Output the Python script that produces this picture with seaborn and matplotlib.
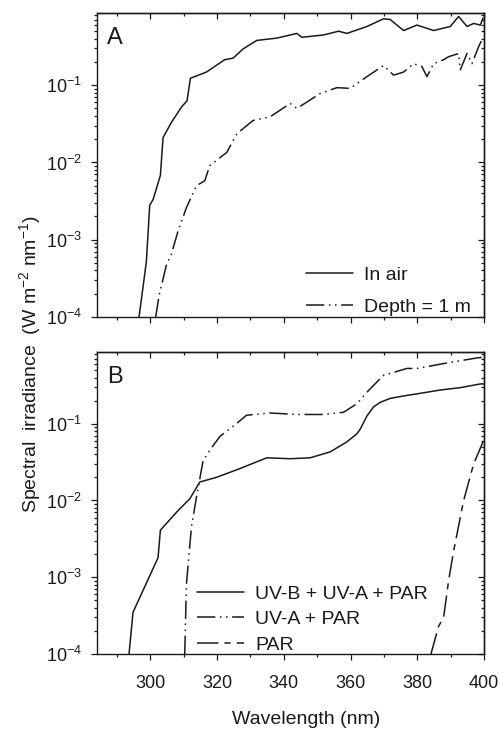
import numpy as np
import pandas as pd
import matplotlib
matplotlib.use("Agg")
import matplotlib.pyplot as plt
import seaborn as sns
from matplotlib.ticker import LogLocator, MultipleLocator, NullFormatter

# panel A: in air vs depth 1 m
air_wl = [296.6, 298.8, 299.8, 300.8, 303.0, 303.8, 306.3, 309.3, 311.0, 312.0,
          316.8, 322.3, 324.8, 327.8, 331.9, 337.9, 343.9, 345.4, 351.9, 356.4,
          358.9, 364.9, 369.9, 371.9, 375.9, 379.9, 384.9, 389.9, 392.4, 394.9,
          396.9, 398.9, 399.7]
air_irr = [1.0e-4, 5.2e-4, 2.8e-3, 3.3e-3, 6.8e-3, 2.1e-2, 3.3e-2, 5.2e-2, 6.3e-2, 0.123,
           0.148, 0.214, 0.224, 0.295, 0.38, 0.407, 0.468, 0.417, 0.447, 0.50,
           0.468, 0.575, 0.724, 0.708, 0.51, 0.60, 0.51, 0.575, 0.776, 0.575,
           0.63, 0.60, 0.74]

depth_wl = [301.6, 302.6, 304.8, 306.3, 308.3, 310.8, 313.8, 316.3, 317.8, 322.9,
            325.9, 330.8, 335.9, 341.9, 343.9, 350.9, 355.9, 359.9, 364.9, 369.9,
            372.9, 375.9, 378.9, 381.4, 382.9, 384.9, 387.9, 389.4, 392.4, 392.9,
            394.9, 396.4, 398.4, 399.4]
depth_irr = [1.0e-4, 1.9e-4, 4.7e-4, 6.5e-4, 1.3e-3, 2.6e-3, 5.0e-3, 5.8e-3, 9.1e-3, 1.35e-2,
             2.35e-2, 3.5e-2, 3.9e-2, 5.8e-2, 5.0e-2, 7.8e-2, 9.3e-2, 9.1e-2, 0.129, 0.18,
             0.135, 0.148, 0.19, 0.174, 0.129, 0.19, 0.214, 0.234, 0.257, 0.158,
             0.257, 0.19, 0.316, 0.39]

# panel B: modelled spectra
full_wl = [293.6, 294.8, 302.3, 303.0, 308.3, 311.8, 314.8, 319.8, 326.8, 334.9,
           341.9, 347.9, 353.9, 358.9, 361.9, 362.9, 364.9, 366.9, 368.9, 371.9,
           376.9, 379.9, 386.9, 392.9, 398.9, 400.0]
full_irr = [1.0e-4, 3.5e-4, 1.8e-3, 4.1e-3, 7.4e-3, 1.05e-2, 1.74e-2, 2.0e-2, 2.6e-2, 3.6e-2,
            3.5e-2, 3.6e-2, 4.3e-2, 5.8e-2, 7.4e-2, 8.5e-2, 0.126, 0.166, 0.19, 0.214,
            0.234, 0.245, 0.275, 0.295, 0.33, 0.33]

uva_wl = [310.3, 310.8, 312.3, 313.8, 315.8, 317.8, 320.8, 325.8, 328.8, 335.9,
          343.9, 351.9, 357.9, 361.9, 364.9, 366.9, 369.9, 376.9, 379.9, 389.9,
          396.9, 400.0]
uva_irr = [1.0e-4, 8.1e-4, 4.5e-3, 1.1e-2, 3.3e-2, 4.5e-2, 6.8e-2, 0.10, 0.129, 0.138,
           0.132, 0.132, 0.141, 0.182, 0.257, 0.316, 0.427, 0.525, 0.525, 0.63,
           0.708, 0.74]

par_wl = [384.1, 386.4, 387.9, 389.4, 390.9, 393.9, 396.9, 399.7, 400.0]
par_irr = [1.0e-4, 2.3e-4, 3.0e-4, 9.1e-4, 2.2e-3, 1.0e-2, 3.0e-2, 5.8e-2, 6.3e-2]

panel_a = pd.concat([
    pd.DataFrame({"wl": air_wl, "irr": air_irr, "series": "In air"}),
    pd.DataFrame({"wl": depth_wl, "irr": depth_irr, "series": "Depth = 1 m"}),
])
panel_b = pd.concat([
    pd.DataFrame({"wl": full_wl, "irr": full_irr, "series": "UV-B + UV-A + PAR"}),
    pd.DataFrame({"wl": uva_wl, "irr": uva_irr, "series": "UV-A + PAR"}),
    pd.DataFrame({"wl": par_wl, "irr": par_irr, "series": "PAR"}),
])

dash_dot_dot = (12, 3, 1, 3, 1, 3)
dashes_a = {"In air": "", "Depth = 1 m": dash_dot_dot}
dashes_b = {"UV-B + UV-A + PAR": "", "UV-A + PAR": dash_dot_dot, "PAR": (14, 4, 4, 4)}

sns.set_theme(style="ticks")
plt.rcParams["font.family"] = ["Liberation Sans", "DejaVu Sans"]
plt.rcParams["mathtext.default"] = "regular"
plt.rcParams["axes.linewidth"] = 1.0
plt.rcParams["text.color"] = "k"
plt.rcParams["axes.labelcolor"] = "k"
plt.rcParams["xtick.color"] = "k"
plt.rcParams["ytick.color"] = "k"

fig = plt.figure(figsize=(5.03, 7.32), dpi=100)
ax_a = fig.add_axes([97 / 503, 1 - 317 / 732, 387 / 503, 304 / 732])
ax_b = fig.add_axes([97 / 503, 1 - 654 / 732, 387 / 503, 302 / 732])

sns.lineplot(data=panel_a, x="wl", y="irr", style="series", dashes=dashes_a,
             color="k", lw=1.1, ax=ax_a, legend=False, estimator=None)
sns.lineplot(data=panel_b, x="wl", y="irr", style="series", dashes=dashes_b,
             color="k", lw=1.1, ax=ax_b, legend=False, estimator=None)

for ax, letter in [(ax_a, "A"), (ax_b, "B")]:
    ax.set_yscale("log")
    ax.set_xlim(284, 400)
    ax.set_ylim(1e-4, 0.86)
    ax.set_xlabel("")
    ax.set_ylabel("")
    ax.xaxis.set_major_locator(MultipleLocator(20))
    ax.xaxis.set_minor_locator(MultipleLocator(10))
    ax.yaxis.set_major_locator(LogLocator(base=10, numticks=10))
    ax.yaxis.set_minor_locator(LogLocator(base=10, subs=np.arange(2, 10), numticks=20))
    ax.yaxis.set_minor_formatter(NullFormatter())
    ax.tick_params(which="both", direction="out", top=False, right=False,
                   labelsize=13, colors="k", width=0.9)
    ax.tick_params(which="major", length=4)
    ax.tick_params(which="minor", length=2.5)
    ax.tick_params(axis="x", pad=11)
    ax.tick_params(axis="y", pad=7)
    for s in ax.spines.values():
        s.set_color("k")
        s.set_visible(True)

    # top and right ticks point into the box
    top = ax.secondary_xaxis("top")
    top.xaxis.set_major_locator(MultipleLocator(20))
    top.xaxis.set_minor_locator(MultipleLocator(10))
    top.tick_params(which="both", direction="in", labeltop=False, width=0.9, colors="k")
    top.tick_params(which="major", length=4)
    top.tick_params(which="minor", length=2.5)
    right = ax.secondary_yaxis("right")
    right.yaxis.set_major_locator(LogLocator(base=10, numticks=10))
    right.yaxis.set_minor_locator(LogLocator(base=10, subs=np.arange(2, 10), numticks=20))
    right.tick_params(which="both", direction="in", labelright=False, width=0.9, colors="k")
    right.tick_params(which="major", length=4)
    right.tick_params(which="minor", length=2.5)

    ax.text(0.027, 0.955, letter, transform=ax.transAxes, fontsize=17,
            ha="left", va="top")

ax_a.tick_params(axis="x", labelbottom=False)

lines_a = ax_a.get_lines()
ax_a.legend(lines_a[:2], ["In air", "Depth = 1 m"], loc="upper left",
            bbox_to_anchor=(0.54, 0.167), frameon=False, fontsize=14,
            handlelength=2.4, handletextpad=0.6, labelspacing=0.75,
            borderpad=0, borderaxespad=0)
lines_b = ax_b.get_lines()
ax_b.legend(lines_b[:3], ["UV-B + UV-A + PAR", "UV-A + PAR", "PAR"], loc="upper left",
            bbox_to_anchor=(0.258, 0.228), frameon=False, fontsize=14,
            handlelength=2.4, handletextpad=0.6, labelspacing=0.4,
            borderpad=0, borderaxespad=0)

fig.text(30 / 503, 1 - 364 / 732, "Spectral  irradiance  (W m$^{-2}$ nm$^{-1}$)",
         rotation=90, ha="center", va="center", fontsize=14)
fig.text(306 / 503, 1 - 720 / 732, "Wavelength (nm)", ha="center", va="center",
         fontsize=14)

fig.savefig("out.png", dpi=100)
